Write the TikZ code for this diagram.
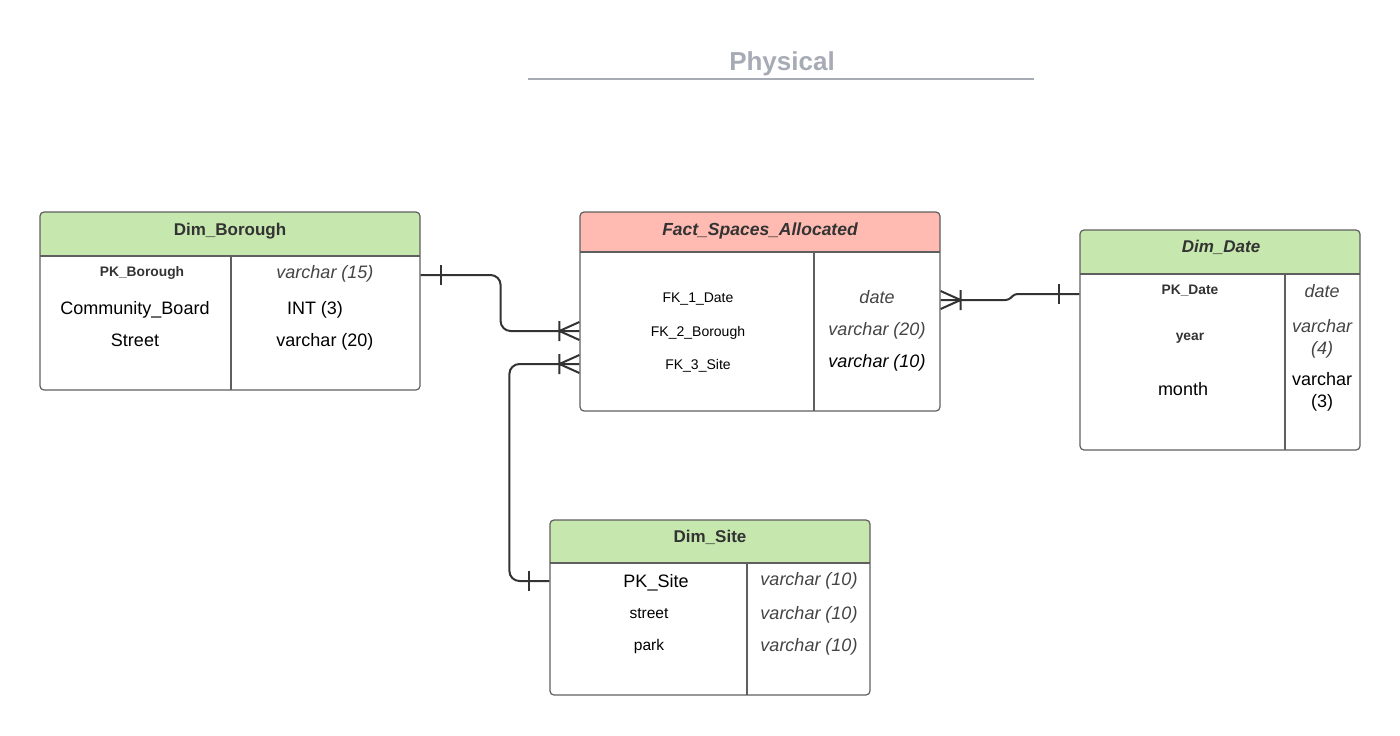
\documentclass[tikz,border=0pt]{standalone}
\usepackage{fontspec}
\setmainfont{Liberation Sans}
\definecolor{hdrgreen}{HTML}{C6E7AE}
\definecolor{hdrred}{HTML}{FFBBB1}
\definecolor{boxgray}{HTML}{5F5F5F}
\definecolor{ink}{HTML}{333333}
\definecolor{typegray}{HTML}{444444}
\definecolor{titlegray}{HTML}{A6ABB6}

\begin{document}
\begin{tikzpicture}[x=1pt, y=-1pt,
    erbox/.style={draw=boxgray, line width=1.2pt, rounded corners=4pt, inner sep=0pt},
    divider/.style={draw=boxgray, line width=1.2pt},
    hdr/.style={font=\bfseries\fontsize{17}{20}\selectfont, text=ink, text height=12pt, text depth=0pt},
    key/.style={font=\bfseries\fontsize{13.8}{16}\selectfont, text=ink, text height=10pt, text depth=0pt},
    big/.style={font=\fontsize{18}{21}\selectfont, text=black, text height=13pt, text depth=0pt},
    small/.style={font=\fontsize{14}{17}\selectfont, text=black, text height=10pt, text depth=0pt},
    typ/.style={font=\itshape\fontsize{18}{21}\selectfont, text=typegray, text height=13pt, text depth=0pt},
    relline/.style={draw=ink, line width=2pt, rounded corners=10pt},
    tickline/.style={draw=ink, line width=2pt},
    onemark/.pic={\draw[tickline] (20,-10) -- (20,10);},
    manymark/.pic={\draw[tickline] (0,-9) -- (20,0) -- (0,9) (20,-10) -- (20,10);}
]
    \useasboundingbox (0,0) rectangle (1400,736);

    % title
    \node[font=\bfseries\fontsize{26}{30}\selectfont, text=titlegray, text height=19pt, text depth=0pt] (title) at (782,61) {Physical};
    \draw[titlegray, line width=2pt] (528,79) -- (1034,79);

    % Dim_Borough
    \fill[hdrgreen, rounded corners=4pt] (40,212) rectangle (420,256);
    \fill[hdrgreen] (40,248) rectangle (420,256);
    \node[erbox, minimum width=380pt, minimum height=178pt] (borough) at (230,301) {};
    \draw[divider] (40,256) -- (420,256);
    \draw[divider] (231,256) -- (231,390);
    \node[hdr] (borough-hdr) at (230,229) {Dim\_Borough};
    \node[key] (borough-pk) at (142,271) {PK\_Borough};
    \node[big] (borough-cb) at (135,308) {Community\_Board};
    \node[big] (borough-st) at (135,340) {Street};
    \node[typ] (borough-t1) at (325,272) {varchar (15)};
    \node[big] (borough-t2) at (315,308) {INT (3)};
    \node[big] (borough-t3) at (325,340) {varchar (20)};

    % Fact_Spaces_Allocated
    \fill[hdrred, rounded corners=4pt] (580,212) rectangle (940,252);
    \fill[hdrred] (580,244) rectangle (940,252);
    \node[erbox, minimum width=360pt, minimum height=199pt] (fact) at (760,311.5) {};
    \draw[divider] (580,252) -- (940,252);
    \draw[divider] (814,252) -- (814,411);
    \node[hdr, font=\bfseries\itshape\fontsize{17.5}{20}\selectfont] (fact-hdr) at (760,229) {Fact\_Spaces\_Allocated};
    \node[small] (fact-fk1) at (698,297) {FK\_1\_Date};
    \node[small] (fact-fk2) at (698,331) {FK\_2\_Borough};
    \node[small] (fact-fk3) at (698,364) {FK\_3\_Site};
    \node[typ] (fact-t1) at (877,297) {date};
    \node[typ] (fact-t2) at (877,329) {varchar (20)};
    \node[typ, text=black] (fact-t3) at (877,361) {varchar (10)};

    % Dim_Date
    \fill[hdrgreen, rounded corners=4pt] (1080,230) rectangle (1360,274);
    \fill[hdrgreen] (1080,266) rectangle (1360,274);
    \node[erbox, minimum width=280pt, minimum height=220pt] (date) at (1220,340) {};
    \draw[divider] (1080,274) -- (1360,274);
    \draw[divider] (1285,274) -- (1285,450);
    \node[hdr, font=\bfseries\itshape\fontsize{17}{20}\selectfont] (date-hdr) at (1221,246) {Dim\_Date};
    \node[key] (date-pk) at (1190,289) {PK\_Date};
    \node[key] (date-yr) at (1190,335) {year};
    \node[big] (date-mo) at (1183,389) {month};
    \node[typ] (date-t1) at (1322,291) {date};
    \node[typ] (date-t2a) at (1322,326) {varchar};
    \node[typ] (date-t2b) at (1322,348) {(4)};
    \node[big] (date-t3a) at (1322,379) {varchar};
    \node[big] (date-t3b) at (1322,401) {(3)};

    % Dim_Site
    \fill[hdrgreen, rounded corners=4pt] (550,520) rectangle (870,563);
    \fill[hdrgreen] (550,555) rectangle (870,563);
    \node[erbox, minimum width=320pt, minimum height=175pt] (site) at (710,607.5) {};
    \draw[divider] (550,563) -- (870,563);
    \draw[divider] (747,563) -- (747,695);
    \node[hdr] (site-hdr) at (710,536) {Dim\_Site};
    \node[big] (site-pk) at (656,581) {PK\_Site};
    \node[small, font=\fontsize{15.5}{18}\selectfont] (site-st) at (649,613) {street};
    \node[small, font=\fontsize{15.5}{18}\selectfont] (site-pa) at (649,645) {park};
    \node[typ] (site-t1) at (809,579) {varchar (10)};
    \node[typ] (site-t2) at (809,613) {varchar (10)};
    \node[typ] (site-t3) at (809,645) {varchar (10)};

    % relationships
    \draw[relline] (borough.east |- 0,275) -- ++(80,0) |- (fact.west |- 0,331);
    \draw[relline] (site.west |- 0,581) -- ++(-40,0) |- (fact.west |- 0,364);
    \draw[relline, rounded corners=3pt] (fact.east |- 0,300) -- ++(68,0) -- ++(6,-6) -- (date.west |- 0,294);
    \pic at (borough.east |- 0,275) {onemark};
    \pic[rotate=180] at (fact.west |- 0,331) {manymark};
    \pic[rotate=180] at (site.west |- 0,581) {onemark};
    \pic[rotate=180] at (fact.west |- 0,364) {manymark};
    \pic at (fact.east |- 0,300) {manymark};
    \pic[rotate=180] at (date.west |- 0,294) {onemark};
\end{tikzpicture}
\end{document}
